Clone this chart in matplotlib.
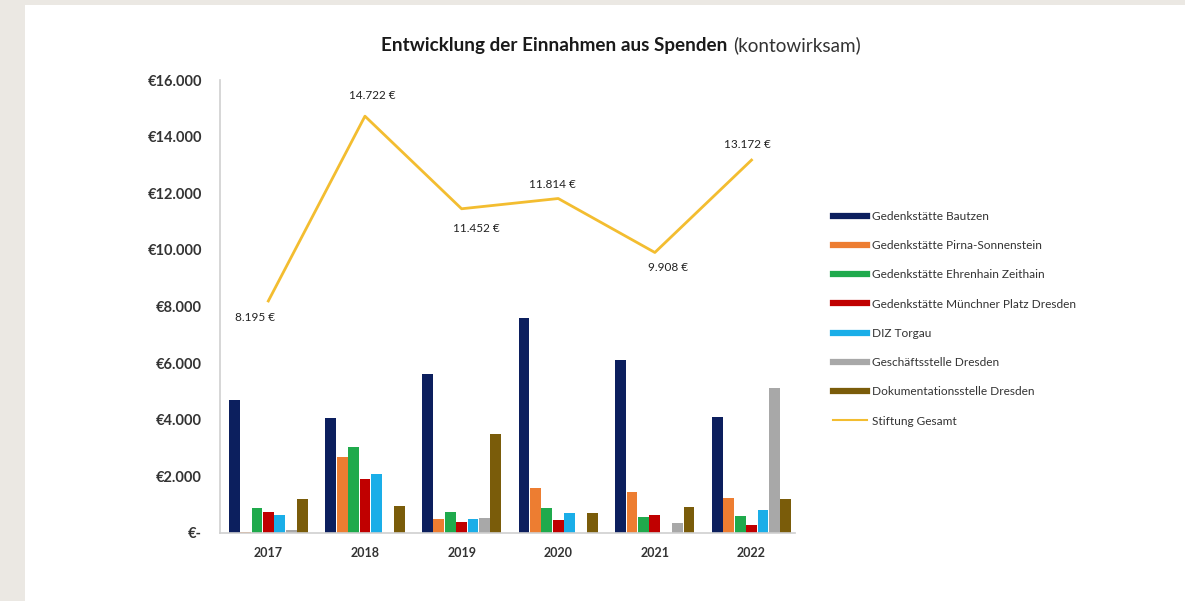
import matplotlib.pyplot as plt
import matplotlib.patches as mpatches
from matplotlib.lines import Line2D
import numpy as np

plt.rcParams['font.family'] = ['Lato', 'DejaVu Sans']

# data
years = ["2017", "2018", "2019", "2020", "2021", "2022"]
bautzen = [4680, 4060, 5620, 7600, 6110, 4100]
pirna = [30, 2680, 490, 1590, 1460, 1250]
zeithain = [880, 3050, 750, 880, 580, 600]
muenchner = [750, 1900, 400, 460, 640, 280]
torgau = [640, 2090, 490, 700, 0, 810]
geschaeft = [100, 0, 540, 0, 350, 5120]
doku = [1200, 950, 3500, 700, 920, 1200]
gesamt = [8195, 14722, 11452, 11814, 9908, 13172]
gesamt_labels = ["8.195 €", "14.722 €", "11.452 €", "11.814 €", "9.908 €", "13.172 €"]

series_names = ["Gedenkstätte Bautzen", "Gedenkstätte Pirna-Sonnenstein",
                "Gedenkstätte Ehrenhain Zeithain", "Gedenkstätte Münchner Platz Dresden",
                "DIZ Torgau", "Geschäftsstelle Dresden", "Dokumentationsstelle Dresden"]
series = [bautzen, pirna, zeithain, muenchner, torgau, geschaeft, doku]
colors = ["#0c1f5e", "#ed7d31", "#1faa4c", "#c00000", "#1aaee8", "#a8a8a8", "#7a5c0a"]
line_color = "#f3bd30"

# label offsets in pixels (dx, dy) relative to the line points
label_offsets = [(-13, -17), (7, 21), (15, -20), (-6, 14), (13, -15), (-4, 16)]

W, H = 1185, 601
fig = plt.figure(figsize=(W / 100, H / 100), dpi=100, facecolor="#ebe8e3")
fig.patches.append(mpatches.Rectangle((25 / W, 0), 1 - 25 / W, 596 / H,
                                      transform=fig.transFigure, facecolor="white",
                                      edgecolor="none", zorder=-1))

ax = fig.add_axes([220 / W, 1 - 533 / H, (795 - 220) / W, (533 - 80) / H])
ax.set_facecolor("none")
ax.set_zorder(1)

x = np.arange(len(years))
step = 0.118
bw = 0.112
for i, (vals, c) in enumerate(zip(series, colors)):
    ax.bar(x + (i - 3) * step, vals, width=bw, color=c, zorder=2)

ax.plot(x, gesamt, color=line_color, lw=2.0, zorder=3)
for xi, v, lab, (dx, dy) in zip(x, gesamt, gesamt_labels, label_offsets):
    ax.annotate(lab, (xi, v), xytext=(dx * 0.72, dy * 0.72), textcoords="offset points",
                ha="center", va="center", fontsize=8.5, color="#222222")

ax.set_xlim(-0.5, 5.45)
ax.set_ylim(0, 16000)
ax.set_yticks(np.arange(0, 16001, 2000))
ax.set_yticklabels(["€-"] + [f"€{v // 1000}.000" for v in range(2000, 16001, 2000)],
                   fontsize=10.5, fontweight="bold", color="#333333")
ax.set_xticks(x)
ax.set_xticklabels(years, fontsize=9, fontweight="bold", color="#333333")
ax.tick_params(axis="both", length=0)
ax.tick_params(axis="y", pad=13)
ax.tick_params(axis="x", pad=10)
for s in ["top", "right"]:
    ax.spines[s].set_visible(False)
ax.spines["left"].set_color("#cfcfcf")
ax.spines["bottom"].set_color("#cfcfcf")
ax.spines["left"].set_linewidth(1.2)
ax.spines["bottom"].set_linewidth(1.2)

handles = [Line2D([], [], color=c, lw=4.5) for c in colors]
handles.append(Line2D([], [], color=line_color, lw=1.5))
leg = fig.legend(handles, series_names + ["Stiftung Gesamt"], loc="upper left",
                 bbox_to_anchor=(822 / W, 1 - 200 / H), frameon=False, fontsize=8.6,
                 handlelength=2.9, handletextpad=0.4, labelspacing=1.53, labelcolor="#333333")

# title: bold part and normal part next to each other
t1 = fig.text(381 / W, 1 - 45 / H, "Entwicklung der Einnahmen aus Spenden", fontsize=13.6,
              fontweight="bold", ha="left", va="center", color="#1a1a1a")
fig.canvas.draw()
bb = t1.get_window_extent()
fig.text((bb.x1 + 6) / W, 1 - 45 / H, "(kontowirksam)", fontsize=13.6,
         ha="left", va="center", color="#333333")

fig.savefig("out.png", dpi=100, facecolor=fig.get_facecolor())
